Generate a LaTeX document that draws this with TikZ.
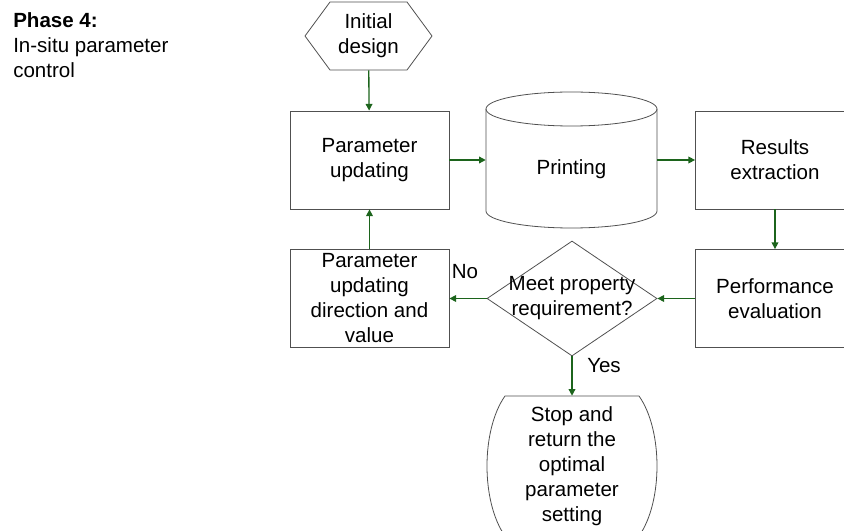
\documentclass[tikz,border=0pt]{standalone}
\usepackage{fontspec}
\setmainfont{Liberation Sans}
\usetikzlibrary{shapes.geometric,arrows.meta}
\definecolor{flowgreen}{RGB}{28,100,28}
\definecolor{edgegray}{RGB}{80,80,80}
\tikzset{
  stepbox/.style={draw=edgegray, line width=0.6pt, align=center,
    minimum width=119.25pt, minimum height=73.5pt, inner sep=2pt},
  outline/.style={draw=edgegray, line width=0.6pt},
  flow/.style={->, draw=flowgreen, line width=1pt},
  >={Triangle[length=5pt,width=5pt]}
}
\begin{document}
\begin{tikzpicture}[x=0.75pt,y=-0.75pt,font=\fontsize{15.4}{18.75}\selectfont]
                \useasboundingbox (0,0) rectangle (844,531);
                \node[anchor=north west, align=left, inner sep=0pt] (phase) at (13,12)
                    {\textbf{Phase 4:}\\In-situ parameter\\control};
                % start
                \draw[outline] (305,36) -- (330,2) -- (407,2) -- (432,36) -- (407,70) -- (330,70) -- cycle;
                \node[align=center, minimum height=51pt] (init) at (368.5,36) {Initial\\design};
                % loop
                \node[stepbox] (upd) at (369.5,160) {Parameter\\updating};
                \node[minimum width=128.25pt, minimum height=102pt] (prn) at (571.5,160) {};
                \draw[outline] (571.5,109) ellipse [x radius=64.125pt, y radius=12.75pt];
                \draw[outline] (486,109) -- (486,211) arc[start angle=180, end angle=360, x radius=64.125pt, y radius=12.75pt] -- (657,109);
                \node (prntext) at (571.5,169) {Printing};
                \node[stepbox] (res) at (775,160) {Results\\extraction};
                \node[stepbox] (perf) at (775,298.5) {Performance\\evaluation};
                \node[diamond, outline, align=center, inner sep=-13pt,
                    minimum width=127.5pt, minimum height=86.25pt] (dec) at (572,298.5) {Meet property\\requirement?};
                \node[stepbox] (dir) at (369.5,298.5) {Parameter\\updating\\direction and\\value};
                % end
                \node[align=center, minimum width=127.5pt, minimum height=105pt] (stop) at (572,466)
                    {Stop and\\return the\\optimal\\parameter\\setting};
                \draw[outline] (505,396) -- (639,396) .. controls (663,430) and (663,502) .. (639,536)
                    -- (505,536) .. controls (481,502) and (481,430) .. (505,396) -- cycle;
                % connectors
                \draw[flow] (init) -- (upd);
                \draw[flow] (upd) -- (prn);
                \draw[flow] (prn) -- (res);
                \draw[flow] (res) -- (perf);
                \draw[flow] (perf) -- (dec);
                \draw[flow] (dec) -- (dir);
                \draw[flow] (dir) -- (upd);
                \draw[flow] (dec) -- (stop);
                \node (no) at (465,272) {No};
                \node (yes) at (604,366) {Yes};
            \end{tikzpicture}
\end{document}
